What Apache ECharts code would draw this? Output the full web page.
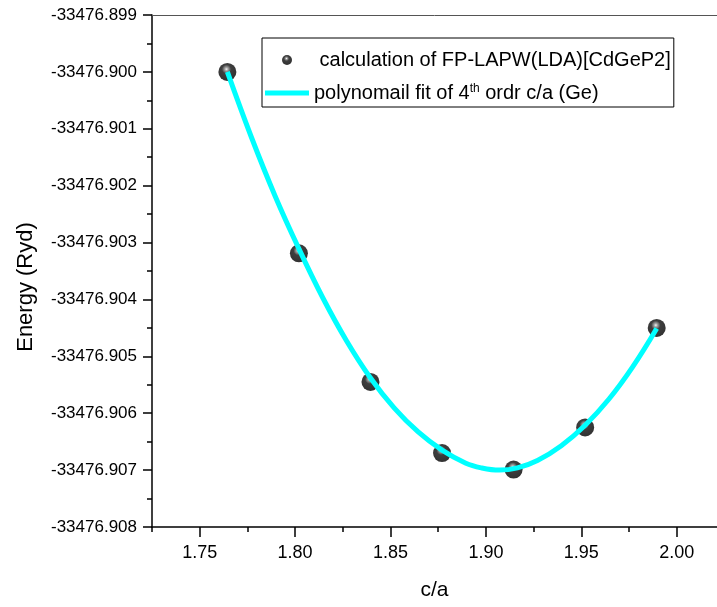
<!DOCTYPE html>
<html>
<head>
<meta charset="utf-8">
<script src="https://cdn.jsdelivr.net/npm/echarts@6/dist/echarts.min.js"></script>
<style>
  html, body { margin: 0; padding: 0; background: #fff; }
  #chart { width: 717px; height: 607px; }
</style>
</head>
<body>
<div id="chart"></div>
<script>
// Computed total energies (FP-LAPW, LDA) of CdGeP2 versus c/a
const caValues = [1.7645, 1.802, 1.8395, 1.877, 1.9145, 1.952, 1.9895];
const energyValues = [-33476.9000, -33476.90319, -33476.90545, -33476.90670, -33476.90699, -33476.90625, -33476.90450];

// 4th-order polynomial fit curve, sampled along c/a
const fitCa = [1.7645, 1.777, 1.7895, 1.802, 1.8145, 1.827, 1.8395, 1.852, 1.8645, 1.877,
               1.8895, 1.8975, 1.907, 1.9165, 1.927, 1.9395, 1.952, 1.9645, 1.977, 1.9895];
const fitEnergy = [-33476.90000, -33476.90114, -33476.90218, -33476.90311, -33476.90397,
                   -33476.90473, -33476.90538, -33476.90591, -33476.90633, -33476.90665,
                   -33476.90688, -33476.90696, -33476.90700, -33476.90696, -33476.90683,
                   -33476.90657, -33476.90621, -33476.90575, -33476.90518, -33476.90451];

// Axis ticks
const xMajorTicks = [1.75, 1.80, 1.85, 1.90, 1.95, 2.00];
const xMinorTicks = [1.725, 1.775, 1.825, 1.875, 1.925, 1.975];
const yMajorTicks = [-33476.899, -33476.900, -33476.901, -33476.902, -33476.903,
                     -33476.904, -33476.905, -33476.906, -33476.907, -33476.908];
const yMinorTicks = [-33476.8995, -33476.9005, -33476.9015, -33476.9025, -33476.9035,
                     -33476.9045, -33476.9055, -33476.9065, -33476.9075];

const pointsName = 'calculation of FP-LAPW(LDA)[CdGeP2]';
const fitName = 'polynomail fit of 4th ordr c/a (Ge)';

const FONT = '"Liberation Sans", Arial, Helvetica, sans-serif';
const X_MIN = 1.725, X_MAX = 2.0211;
const Y_MIN = -33476.908, Y_MAX = -33476.899;

const chart = echarts.init(document.getElementById('chart'), null, { renderer: 'canvas' });

// glossy black ball used for the data points
const sphere = {
  type: 'radial', x: 0.45, y: 0.35, r: 0.6,
  colorStops: [
    { offset: 0, color: '#f2f2f2' },
    { offset: 0.15, color: '#909090' },
    { offset: 0.42, color: '#0e0e0e' },
    { offset: 1, color: '#000000' }
  ]
};

chart.setOption({
  animation: false,
  backgroundColor: '#ffffff',
  grid: { left: 152, top: 15, right: 0, bottom: 80, containLabel: false },
  legend: {
    orient: 'vertical',
    left: 262, top: 38,
    borderColor: '#000', borderWidth: 1,
    padding: [12, 3, 4, 3],
    itemWidth: 44, itemHeight: 10, itemGap: 13,
    data: [
      { name: pointsName, icon: 'circle' },
      { name: fitName, icon: 'path://M0,0L44,0L44,5L0,5Z', itemStyle: { color: '#00FFFF' } }
    ],
    formatter: function (name) {
      if (name === fitName) {
        return '{t|polynomail fit of 4}{sup|th}{t| ordr c/a (Ge)}';
      }
      return '{t| ' + name + '}';
    },
    textStyle: {
      fontFamily: FONT, fontSize: 20, color: '#000', lineHeight: 20,
      rich: {
        t: { fontFamily: FONT, fontSize: 20, color: '#000', lineHeight: 20 },
        sup: { fontFamily: FONT, fontSize: 12, color: '#000', lineHeight: 12, verticalAlign: 'top' }
      }
    }
  },
  xAxis: [
    {
      type: 'value', min: X_MIN, max: X_MAX, position: 'bottom',
      name: 'c/a', nameLocation: 'middle', nameGap: 53,
      nameTextStyle: { fontFamily: FONT, fontSize: 21, color: '#000' },
      axisLine: { lineStyle: { color: '#000', width: 1.5 } },
      axisTick: { show: true, inside: false, customValues: xMajorTicks, length: 10, lineStyle: { color: '#000', width: 1.5 } },
      axisLabel: { customValues: xMajorTicks, formatter: v => v.toFixed(2), fontFamily: FONT, fontSize: 18, color: '#000', margin: 17 },
      splitLine: { show: false }
    },
    {
      type: 'value', min: X_MIN, max: X_MAX, position: 'bottom',
      axisLine: { show: false },
      axisTick: { show: true, inside: false, customValues: xMinorTicks, length: 5, lineStyle: { color: '#000', width: 1.5 } },
      axisLabel: { show: false },
      splitLine: { show: false }
    },
    {
      type: 'value', min: X_MIN, max: X_MAX, position: 'top',
      axisLine: { lineStyle: { color: '#555', width: 1 } },
      axisTick: { show: false },
      axisLabel: { show: false },
      splitLine: { show: false }
    }
  ],
  yAxis: [
    {
      type: 'value', min: Y_MIN, max: Y_MAX, position: 'left',
      name: 'Energy (Ryd)', nameLocation: 'middle', nameGap: 115,
      nameTextStyle: { fontFamily: FONT, fontSize: 22, color: '#000', padding: [0, 32, 0, 0] },
      axisLine: { lineStyle: { color: '#000', width: 1.5 } },
      axisTick: { show: true, inside: false, customValues: yMajorTicks, length: 9, lineStyle: { color: '#000', width: 1.5 } },
      axisLabel: { customValues: yMajorTicks, formatter: v => v.toFixed(3), fontFamily: FONT, fontSize: 17, color: '#000', margin: 15 },
      splitLine: { show: false }
    },
    {
      type: 'value', min: Y_MIN, max: Y_MAX, position: 'left',
      axisLine: { show: false },
      axisTick: { show: true, inside: false, customValues: yMinorTicks, length: 5, lineStyle: { color: '#000', width: 1.5 } },
      axisLabel: { show: false },
      splitLine: { show: false }
    }
  ],
  series: [
    {
      name: pointsName,
      type: 'scatter',
      xAxisIndex: 0, yAxisIndex: 0,
      symbol: 'circle', symbolSize: 18,
      itemStyle: { color: sphere },
      data: caValues.map((x, i) => [x, energyValues[i]]),
      z: 2
    },
    {
      name: fitName,
      type: 'line',
      xAxisIndex: 0, yAxisIndex: 0,
      smooth: 0.4,
      showSymbol: false, symbol: 'none',
      lineStyle: { color: '#00FFFF', width: 5 },
      itemStyle: { color: '#00FFFF' },
      data: fitCa.map((x, i) => [x, fitEnergy[i]]),
      z: 3
    }
  ]
});
</script>
</body>
</html>
